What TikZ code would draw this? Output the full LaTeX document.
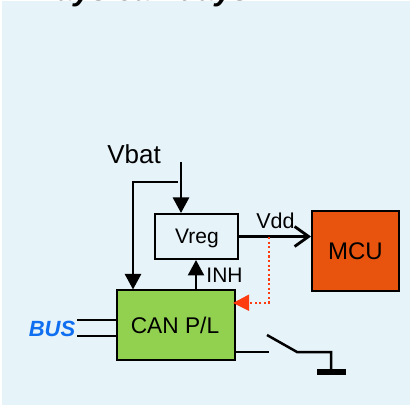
\documentclass[tikz,border=0pt]{standalone}
\usepackage{fontspec}
\setmainfont{Liberation Sans}
\usetikzlibrary{arrows.meta}
\definecolor{bgc}{HTML}{E6F3F9}
\definecolor{canc}{HTML}{92D050}
\definecolor{mcuc}{HTML}{E8540E}
\definecolor{busc}{HTML}{0F6FF0}
\definecolor{redc}{HTML}{FF3B10}
\tikzset{
  x=1pt,y=-1pt,
  wire/.style={draw=black,line width=2.5pt},
  box/.style={draw=black,line width=2pt,inner sep=0pt},
  tri/.style={-{Triangle[length=15.5pt,width=16pt]}},
  lab/.style={inner sep=0pt,text=black},
}
\begin{document}
\begin{tikzpicture}
\useasboundingbox (0,0) rectangle (410,406);
\fill[white] (0,0) rectangle (410,406);
\fill[bgc] (2,1) rectangle (410,405);
\begin{scope}
\clip (0,0) rectangle (410,8);
\node[lab,anchor=base west,font=\bfseries\itshape\fontsize{31}{33}\selectfont] (title) at (1,1) {Always can days};
\end{scope}
% boxes
\node[box,minimum width=83pt,minimum height=45pt,fill=bgc] (vreg) at (196.5,236.5) {};
\node[lab,font=\fontsize{21}{22}\selectfont] (vregt) at (197,238) {Vreg};
\node[box,minimum width=118pt,minimum height=70pt,fill=canc] (can) at (176,325) {};
\node[lab,font=\fontsize{22.7}{24}\selectfont] (cant) at (175,325) {CAN P/L};
\node[box,minimum width=87pt,minimum height=80pt,fill=mcuc] (mcu) at (355.5,251) {};
\node[lab,font=\fontsize{24}{26}\selectfont] (mcut) at (355.5,251.5) {MCU};
% labels
\node[lab,font=\fontsize{26}{28}\selectfont] (vbat) at (134,154.5) {Vbat};
\node[lab,font=\fontsize{21}{22}\selectfont] (inh) at (224.5,275.5) {INH};
\node[lab,font=\fontsize{21.5}{22}\selectfont] (vdd) at (275.5,221) {Vdd};
\node[lab,text=busc,font=\bfseries\itshape\fontsize{22}{24}\selectfont] (bus) at (52,329) {BUS};
% coordinates
\coordinate (v1) at (181,162);
\coordinate (v2) at (178,182);
\coordinate (v3) at (133,182);
\coordinate (cv) at (133,289.5);
\coordinate (s1) at (269,352);
\coordinate (s3) at (267,335);
\coordinate (s4) at (297,352);
\coordinate (s5) at (331,352);
\coordinate (s6) at (331,372);
\coordinate (g1) at (317,372);
\coordinate (g2) at (346,372);
\coordinate (b1a) at (77,320);
\coordinate (b2a) at (77,336);
\coordinate (jn) at (269,237);
\coordinate (jc) at (269,303);
\coordinate (ra) at (248,303);
% connectors
\draw[wire,tri] (v1) -- (v1 |- vreg.north);
\draw[wire,tri] (v2) -- (v3) -- (cv);
\draw[wire,tri] (can.north -| 196,0) -- (vreg.south -| 196,0);
\draw[wire,-{Straight Barb[length=14pt,width=20pt,line width=2.8pt]}] (vreg.east) -- (vreg.east -| mcu.west);
\draw[redc,line width=2.4pt,dash pattern=on 2.2pt off 2.4pt] (jn) -- (jc) -- (ra);
\fill[redc] (233,303) -- (249,294.5) -- (249,311) -- cycle;
\draw[wire] (b1a) -- (b1a -| can.west);
\draw[wire] (b2a) -- (b2a -| can.west);
\draw[wire] (s1 -| can.east) -- (s1);
\draw[wire] (s3) -- (s4) -- (s5) -- (s6);
\draw[black,line width=6pt] (g1) -- (g2);
\end{tikzpicture}
\end{document}
